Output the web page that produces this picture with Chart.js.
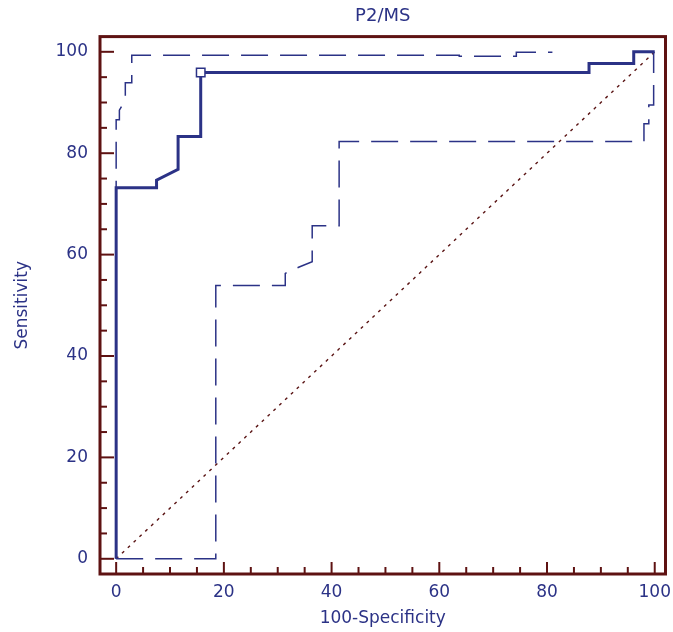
<!DOCTYPE html>
<html>
<head>
<meta charset="utf-8">
<script src="https://cdn.jsdelivr.net/npm/chart.js@4.4.1/dist/chart.umd.min.js"></script>
<style>
  html, body { margin: 0; padding: 0; background: #fff; }
  #wrap { width: 673px; height: 632px; }
</style>
</head>
<body>
<div id="wrap"><canvas id="roc" width="673" height="632"></canvas></div>
<script>
// ROC curve for P2/MS with confidence bounds
const rocX = [0, 0, 7.5, 7.5, 11.5, 11.5, 15.7, 15.7, 87.8, 87.8, 96.1, 96.1, 100];
const rocY = [0, 73.2, 73.2, 74.7, 76.8, 83.3, 83.3, 95.9, 95.9, 97.7, 97.7, 100, 100];

const upperX = [0, 0, 0.6, 0.6, 1.7, 1.7, 2.9, 2.9, 63.7, 63.7, 74.3, 74.3, 81];
const upperY = [0, 86.6, 86.6, 88.5, 90.5, 93.9, 93.9, 99.3, 99.3, 99.1, 99.1, 99.9, 99.9];

const lowerX = [0, 18.5, 18.5, 31.4, 31.4, 34.1, 36.4, 36.4, 41.4, 41.4, 98.0, 98.0, 98.9, 98.9, 99.8, 99.8];
const lowerY = [0, 0, 53.9, 53.9, 56.3, 57.6, 58.6, 65.7, 65.7, 82.3, 82.3, 85.8, 85.8, 89.5, 89.5, 100];

const diagX = [0, 100];
const diagY = [0, 100];

const cutoffX = [15.7];
const cutoffY = [95.9];

const tickValues = [0, 5, 10, 15, 20, 25, 30, 35, 40, 45, 50, 55, 60, 65, 70, 75, 80, 85, 90, 95, 100];
const majorTicks = [0, 20, 40, 60, 80, 100];

const NAVY = '#2b3286';
const FRAME = '#5e1212';
const DOT = '#5a1414';

function pts(xs, ys) {
  return xs.map((x, i) => ({ x, y: ys[i] }));
}

// frame + inward tick marks
const framePlugin = {
  id: 'frame',
  afterDatasetsDraw(chart) {
    const { ctx, chartArea: a, scales } = chart;
    ctx.save();
    ctx.strokeStyle = FRAME;
    ctx.lineWidth = 2;
    scales.x.ticks.forEach(t => {
      const px = scales.x.getPixelForValue(t.value);
      const len = majorTicks.includes(t.value) ? 12 : 7;
      ctx.beginPath();
      ctx.moveTo(px, a.bottom);
      ctx.lineTo(px, a.bottom - len);
      ctx.stroke();
    });
    scales.y.ticks.forEach(t => {
      const py = scales.y.getPixelForValue(t.value);
      const len = majorTicks.includes(t.value) ? 14 : 7;
      ctx.beginPath();
      ctx.moveTo(a.left, py);
      ctx.lineTo(a.left + len, py);
      ctx.stroke();
    });
    ctx.lineWidth = 3;
    ctx.strokeRect(a.left, a.top, a.right - a.left, a.bottom - a.top);
    ctx.restore();
  }
};

const font = { family: '"DejaVu Sans", sans-serif', size: 17 };

// note: chart.js paints the first dataset on top
new Chart(document.getElementById('roc'), {
  type: 'line',
  data: {
    datasets: [
      {
        label: 'cutoff',
        data: pts(cutoffX, cutoffY),
        showLine: false,
        pointStyle: 'rect',
        pointRadius: 6,
        pointBackgroundColor: '#ffffff',
        pointBorderColor: NAVY,
        pointBorderWidth: 1.5
      },
      {
        label: 'ROC',
        data: pts(rocX, rocY),
        borderColor: NAVY,
        borderWidth: 3,
        pointRadius: 0,
        fill: false
      },
      {
        label: 'upper',
        data: pts(upperX, upperY),
        borderColor: NAVY,
        borderWidth: 1.5,
        borderDash: [27, 12],
        pointRadius: 0,
        fill: false
      },
      {
        label: 'lower',
        data: pts(lowerX, lowerY),
        borderColor: NAVY,
        borderWidth: 1.5,
        borderDash: [27, 12],
        pointRadius: 0,
        fill: false
      },
      {
        label: 'diagonal',
        data: pts(diagX, diagY),
        borderColor: DOT,
        borderWidth: 1.4,
        borderDash: [3, 5],
        pointRadius: 0,
        fill: false
      }
    ]
  },
  options: {
    responsive: false,
    animation: false,
    layout: { padding: { left: 0, right: 4, top: 0, bottom: 0 } },
    plugins: {
      legend: { display: false },
      tooltip: { enabled: false },
      title: {
        display: true,
        text: 'P2/MS',
        fullSize: false,
        color: NAVY,
        font: { family: font.family, size: 18, weight: 'normal' },
        padding: { top: 6, bottom: 9 }
      }
    },
    scales: {
      x: {
        type: 'linear',
        min: -3,
        max: 102,
        afterBuildTicks: s => { s.ticks = tickValues.map(v => ({ value: v })); },
        afterFit: s => { s.height = 58; s.paddingLeft = 0; s.paddingRight = 0; },
        grid: { display: false, drawTicks: false },
        border: { display: false },
        ticks: {
          color: NAVY,
          font,
          padding: 8,
          maxRotation: 0,
          autoSkip: false,
          callback: v => majorTicks.includes(v) ? String(v) : ''
        },
        title: {
          display: true,
          text: '100-Specificity',
          color: NAVY,
          font,
          padding: { top: 0, bottom: 3 }
        }
      },
      y: {
        type: 'linear',
        min: -3,
        max: 103,
        afterBuildTicks: s => { s.ticks = tickValues.map(v => ({ value: v })); },
        afterFit: s => { s.width = 100; s.paddingTop = 0; s.paddingBottom = 0; },
        grid: { display: false, drawTicks: false },
        border: { display: false },
        ticks: {
          color: NAVY,
          font,
          padding: 12,
          autoSkip: false,
          callback: v => majorTicks.includes(v) ? String(v) : ''
        },
        title: {
          display: true,
          text: 'Sensitivity',
          color: NAVY,
          font,
          padding: { top: 12, bottom: 0 }
        }
      }
    }
  },
  plugins: [framePlugin]
});
</script>
</body>
</html>
